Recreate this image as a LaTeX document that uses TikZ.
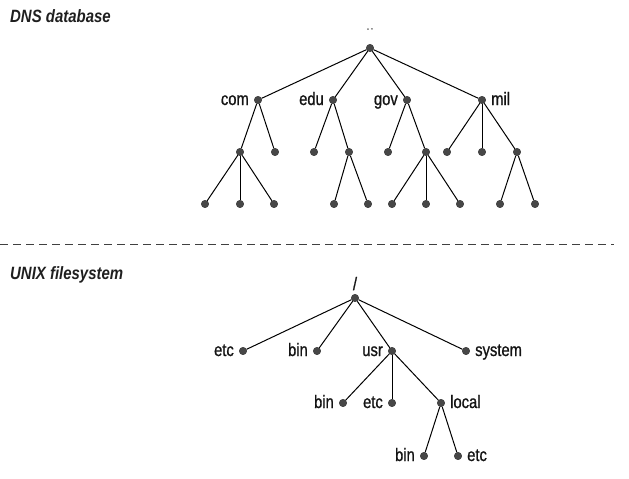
\documentclass[tikz,border=0pt]{standalone}
\usepackage{fontspec}
\setmainfont{Liberation Sans}[FakeStretch=0.84]
\newfontfamily\lblfont{Liberation Sans}[FakeStretch=0.82,FakeBold=0.9]
\begin{document}
\begin{tikzpicture}[x=1pt,y=-1pt,
  dot/.style={circle,fill=black!72,draw=black!80,line width=0.4pt,inner sep=0pt,minimum size=7.5pt},
  edge/.style={black,line width=1pt},
  lbl/.style={inner sep=0pt,font=\lblfont\fontsize{18}{20}\selectfont,text=black!92},
  ttl/.style={inner sep=0pt,anchor=base west,font=\fontsize{17.8}{20}\selectfont\bfseries\itshape,text=black!88},
  sep/.style={black!75,line width=0.9pt,dash pattern=on 8pt off 5pt}]
\useasboundingbox (0,0) rectangle (629,479);
\newcommand{\labL}[2]{\node[lbl,anchor=base east] at ([xshift=-9pt,yshift=-5pt]#1.center) {#2};}
\newcommand{\labR}[2]{\node[lbl,anchor=base west] at ([xshift=9pt,yshift=-5pt]#1.center) {#2};}

% titles
\node[ttl] (t1) at (10,23) {DNS database};
\node[ttl] (t2) at (10,279) {UNIX filesystem};

% separator
\coordinate (s1) at (0,244);
\coordinate (s2) at (614,244);
\draw[sep] (s1) -- (s2);

% ---------------- DNS tree ----------------
\node[dot] (r) at (370,48) {};
\node[inner sep=0pt,font=\fontsize{7}{8}\selectfont] (rl) at (370,31) {“ ”};

\node[dot] (com) at (258,100) {};
\node[dot] (edu) at (333,100) {};
\node[dot] (gov) at (407,100) {};
\node[dot] (mil) at (482,100) {};
\labL{com}{com}
\labL{edu}{edu}
\labL{gov}{gov}
\labR{mil}{mil}

\node[dot] (c1) at (240,152) {};
\node[dot] (c2) at (275,152) {};
\node[dot] (e1) at (314,152) {};
\node[dot] (e2) at (349,152) {};
\node[dot] (g1) at (388,152) {};
\node[dot] (g2) at (426,152) {};
\node[dot] (m1) at (447,152) {};
\node[dot] (m2) at (482,152) {};
\node[dot] (m3) at (517,152) {};

\node[dot] (c11) at (205,204) {};
\node[dot] (c12) at (240,204) {};
\node[dot] (c13) at (274,204) {};
\node[dot] (e21) at (334,204) {};
\node[dot] (e22) at (368,204) {};
\node[dot] (g21) at (392,204) {};
\node[dot] (g22) at (426,204) {};
\node[dot] (g23) at (460,204) {};
\node[dot] (m31) at (500,204) {};
\node[dot] (m32) at (535,204) {};

\foreach \a/\b in {r/com,r/edu,r/gov,r/mil,
  com/c1,com/c2,edu/e1,edu/e2,gov/g1,gov/g2,mil/m1,mil/m2,mil/m3,
  c1/c11,c1/c12,c1/c13,e2/e21,e2/e22,g2/g21,g2/g22,g2/g23,m3/m31,m3/m32}
  \draw[edge] (\a) -- (\b);

% ---------------- UNIX tree ----------------
\node[dot] (u) at (355,298) {};
\node[lbl,anchor=base] (ul) at (355,290) {/};

\node[dot] (uetc) at (243,351) {};
\node[dot] (ubin) at (317,351) {};
\node[dot] (uusr) at (392,351) {};
\node[dot] (usys) at (466,351) {};
\labL{uetc}{etc}
\labL{ubin}{bin}
\labL{uusr}{usr}
\labR{usys}{system}

\node[dot] (ubin2) at (343,403) {};
\node[dot] (uetc2) at (392,403) {};
\node[dot] (uloc) at (441,403) {};
\labL{ubin2}{bin}
\labL{uetc2}{etc}
\labR{uloc}{local}

\node[dot] (ubin3) at (424,456) {};
\node[dot] (uetc3) at (458,456) {};
\labL{ubin3}{bin}
\labR{uetc3}{etc}

\foreach \a/\b in {u/uetc,u/ubin,u/uusr,u/usys,
  uusr/ubin2,uusr/uetc2,uusr/uloc,uloc/ubin3,uloc/uetc3}
  \draw[edge] (\a) -- (\b);
\end{tikzpicture}
\end{document}
